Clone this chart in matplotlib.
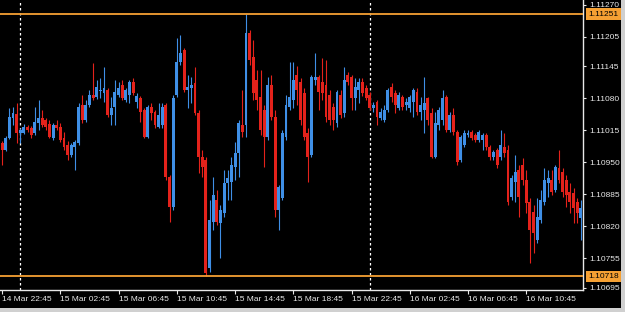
import matplotlib
matplotlib.use("Agg")
import matplotlib.pyplot as plt
from matplotlib.patches import Rectangle
import numpy as np
import pandas as pd

# EURUSD M15, 14 Mar 22:45 -> 16 Mar 11:30
times = pd.date_range("2016-03-14 22:45", periods=160, freq="15min")

opens = [
    1.10989, 1.10975, 1.10999, 1.11040, 1.11048, 1.11009, 1.11009, 1.11022, 1.11020, 1.11009,
    1.11030, 1.11040, 1.11036, 1.11028, 1.10999, 1.11026, 1.11022, 1.10999, 1.10985, 1.10965,
    1.10981, 1.10989, 1.11066, 1.11036, 1.11066, 1.11087, 1.11083, 1.11095, 1.11091, 1.11097,
    1.11046, 1.11062, 1.11087, 1.11107, 1.11076, 1.11087, 1.11113, 1.11072, 1.11081, 1.11056,
    1.11001, 1.11062, 1.11052, 1.11022, 1.11026, 1.11066, 1.10920, 1.10859, 1.11087, 1.11154,
    1.11178, 1.11097, 1.11101, 1.11111, 1.11050, 1.10961, 1.10954, 1.10735, 1.10828, 1.10873,
    1.10826, 1.10847, 1.10908, 1.10910, 1.10940, 1.10969, 1.11026, 1.11026, 1.11213, 1.11164,
    1.11117, 1.11083, 1.11056, 1.11001, 1.11107, 1.11042, 1.10853, 1.10877, 1.11001, 1.11062,
    1.11076, 1.11127, 1.11113, 1.11091, 1.11009, 1.10965, 1.11117, 1.11123, 1.11113, 1.11107,
    1.11087, 1.11062, 1.11030, 1.11087, 1.11050, 1.11127, 1.11123, 1.11081, 1.11097, 1.11113,
    1.11101, 1.11087, 1.11060, 1.11072, 1.11040, 1.11036, 1.11056, 1.11103, 1.11091, 1.11060,
    1.11083, 1.11066, 1.11060, 1.11072, 1.11093, 1.11052, 1.11056, 1.11081, 1.11050, 1.10961,
    1.11026, 1.11036, 1.11083, 1.11015, 1.11046, 1.11011, 1.10954, 1.10985, 1.11005, 1.11011,
    1.11005, 1.10995, 1.10995, 1.11005, 1.10981, 1.10961, 1.10975, 1.10961, 1.10981, 1.10975,
    1.10879, 1.10910, 1.10934, 1.10944, 1.10914, 1.10869, 1.10849, 1.10792, 1.10832, 1.10869,
    1.10908, 1.10914, 1.10893, 1.10938, 1.10930, 1.10914, 1.10889, 1.10887, 1.10869, 1.10836,
]
highs = [
    1.10993, 1.11003, 1.11060, 1.11062, 1.11070, 1.11020, 1.11028, 1.11026, 1.11024, 1.11062,
    1.11076, 1.11056, 1.11040, 1.11036, 1.11030, 1.11036, 1.11030, 1.11011, 1.10993, 1.10989,
    1.10995, 1.11070, 1.11087, 1.11076, 1.11097, 1.11152, 1.11117, 1.11121, 1.11144, 1.11101,
    1.11083, 1.11117, 1.11113, 1.11117, 1.11101, 1.11117, 1.11121, 1.11091, 1.11085, 1.11060,
    1.11066, 1.11070, 1.11056, 1.11070, 1.11070, 1.11070, 1.10924, 1.11087, 1.11203, 1.11209,
    1.11182, 1.11127, 1.11123, 1.11144, 1.11056, 1.10975, 1.10961, 1.10873, 1.10920, 1.10893,
    1.10863, 1.10934, 1.10934, 1.10961, 1.10991, 1.11036, 1.11097, 1.11251, 1.11219, 1.11199,
    1.11138, 1.11138, 1.11066, 1.11123, 1.11127, 1.11056, 1.10904, 1.11015, 1.11087, 1.11154,
    1.11154, 1.11146, 1.11121, 1.11101, 1.11020, 1.11127, 1.11172, 1.11127, 1.11162, 1.11158,
    1.11097, 1.11070, 1.11097, 1.11097, 1.11144, 1.11133, 1.11127, 1.11121, 1.11121, 1.11121,
    1.11107, 1.11093, 1.11072, 1.11076, 1.11060, 1.11066, 1.11101, 1.11111, 1.11097, 1.11093,
    1.11087, 1.11081, 1.11087, 1.11101, 1.11101, 1.11083, 1.11123, 1.11083, 1.11060, 1.11052,
    1.11062, 1.11097, 1.11087, 1.11052, 1.11060, 1.11015, 1.11005, 1.11015, 1.11015, 1.11015,
    1.11009, 1.11015, 1.11009, 1.11009, 1.10985, 1.10975, 1.10979, 1.11015, 1.11009, 1.10985,
    1.10924, 1.10965, 1.10944, 1.10958, 1.10934, 1.10877, 1.10863, 1.10877, 1.10893, 1.10938,
    1.10934, 1.10934, 1.10944, 1.10975, 1.10938, 1.10924, 1.10908, 1.10897, 1.10877, 1.10873,
]
lows = [
    1.10944, 1.10973, 1.10997, 1.11026, 1.10989, 1.10989, 1.11007, 1.11011, 1.10999, 1.11005,
    1.11015, 1.11022, 1.11015, 1.10999, 1.10995, 1.11015, 1.10991, 1.10975, 1.10954, 1.10961,
    1.10934, 1.10985, 1.11030, 1.11032, 1.11062, 1.11076, 1.11079, 1.11081, 1.11072, 1.11042,
    1.11026, 1.11026, 1.11083, 1.11076, 1.11072, 1.11070, 1.11087, 1.11060, 1.11032, 1.10999,
    1.10999, 1.11036, 1.11020, 1.11020, 1.11020, 1.10914, 1.10828, 1.10853, 1.11083, 1.11148,
    1.11093, 1.11060, 1.11070, 1.11046, 1.10928, 1.10920, 1.10718, 1.10726, 1.10812, 1.10822,
    1.10755, 1.10838, 1.10873, 1.10873, 1.10914, 1.10920, 1.11001, 1.11001, 1.11148, 1.11076,
    1.11056, 1.11005, 1.10940, 1.10995, 1.11036, 1.10838, 1.10812, 1.10873, 1.10995, 1.11056,
    1.11060, 1.11066, 1.11026, 1.10995, 1.10910, 1.10961, 1.11107, 1.11056, 1.11076, 1.11032,
    1.11026, 1.11015, 1.11022, 1.11040, 1.11042, 1.11107, 1.11056, 1.11056, 1.11070, 1.11085,
    1.11076, 1.11056, 1.11052, 1.11026, 1.11036, 1.11032, 1.11052, 1.11072, 1.11050, 1.11056,
    1.11056, 1.11056, 1.11052, 1.11042, 1.11046, 1.11036, 1.11009, 1.11026, 1.10958, 1.10958,
    1.11015, 1.11026, 1.11011, 1.11011, 1.11005, 1.10944, 1.10950, 1.10981, 1.11001, 1.10995,
    1.10991, 1.10991, 1.10975, 1.10975, 1.10954, 1.10954, 1.10938, 1.10954, 1.10961, 1.10863,
    1.10873, 1.10869, 1.10838, 1.10904, 1.10847, 1.10745, 1.10765, 1.10785, 1.10826, 1.10863,
    1.10879, 1.10883, 1.10889, 1.10908, 1.10879, 1.10859, 1.10847, 1.10826, 1.10826, 1.10792,
]
closes = [
    1.10975, 1.10999, 1.11042, 1.11050, 1.11009, 1.11015, 1.11022, 1.11015, 1.11005, 1.11032,
    1.11040, 1.11026, 1.11022, 1.11001, 1.11026, 1.11020, 1.10995, 1.10981, 1.10965, 1.10985,
    1.10991, 1.11062, 1.11036, 1.11066, 1.11087, 1.11081, 1.11103, 1.11097, 1.11101, 1.11046,
    1.11060, 1.11093, 1.11101, 1.11081, 1.11097, 1.11113, 1.11091, 1.11085, 1.11052, 1.11001,
    1.11062, 1.11050, 1.11026, 1.11046, 1.11062, 1.10920, 1.10859, 1.11081, 1.11154, 1.11172,
    1.11097, 1.11103, 1.11107, 1.11050, 1.10961, 1.10940, 1.10724, 1.10832, 1.10883, 1.10828,
    1.10853, 1.10908, 1.10918, 1.10944, 1.10969, 1.11030, 1.11011, 1.11213, 1.11158, 1.11091,
    1.11076, 1.11015, 1.11001, 1.11107, 1.11042, 1.10853, 1.10899, 1.11009, 1.11066, 1.11083,
    1.11117, 1.11097, 1.11036, 1.11001, 1.10961, 1.11123, 1.11123, 1.11093, 1.11091, 1.11042,
    1.11036, 1.11036, 1.11093, 1.11046, 1.11117, 1.11113, 1.11081, 1.11103, 1.11113, 1.11091,
    1.11081, 1.11060, 1.11066, 1.11042, 1.11052, 1.11056, 1.11097, 1.11083, 1.11066, 1.11087,
    1.11062, 1.11072, 1.11083, 1.11097, 1.11052, 1.11066, 1.11070, 1.11036, 1.10961, 1.11030,
    1.11056, 1.11081, 1.11015, 1.11046, 1.11011, 1.10950, 1.11001, 1.11009, 1.11009, 1.10999,
    1.10995, 1.11011, 1.11005, 1.10981, 1.10961, 1.10971, 1.10944, 1.10985, 1.10969, 1.10869,
    1.10918, 1.10930, 1.10879, 1.10914, 1.10867, 1.10812, 1.10806, 1.10838, 1.10873, 1.10914,
    1.10918, 1.10889, 1.10940, 1.10914, 1.10889, 1.10883, 1.10869, 1.10857, 1.10847, 1.10857,
]

price_ticks = [1.11270, 1.11205, 1.11145, 1.11080, 1.11015, 1.10950, 1.10885, 1.10820, 1.10755, 1.10695]

bull = "#3f8fe6"
bear = "#e4221b"
orange = "#f5a033"
fg = "#e8e8e8"

o = np.array(opens)
h = np.array(highs)
l = np.array(lows)
c = np.array(closes)
x = np.arange(len(o))
cols = [bull if cc >= oo else bear for oo, cc in zip(o, c)]

fig = plt.figure(figsize=(6.25, 3.12), dpi=100, facecolor="black")
ax = fig.add_axes([0, 22 / 312, 583 / 625, 290 / 312], facecolor="black")

# day separators
for i, t in enumerate(times):
    if t.hour == 0 and t.minute == 0:
        ax.axvline(i, color="white", lw=0.9, ls=(0, (2, 2)), zorder=1)

ax.vlines(x, l, h, colors=cols, lw=0.8, zorder=2)
body = np.maximum(np.abs(c - o), 0.000012)
ax.bar(x, body, bottom=np.minimum(o, c), width=0.8, color=cols, lw=0, zorder=3)

hi = h.max()
lo = l.min()
ax.axhline(hi, color=orange, lw=1.3, zorder=4)
ax.axhline(lo, color=orange, lw=1.3, zorder=4)

ax.set_xlim(-0.58, 159.6)
ax.set_ylim(1.10690, 1.112796)

for s in ["top", "left"]:
    ax.spines[s].set_visible(False)
for s in ["right", "bottom"]:
    ax.spines[s].set_color(fg)
    ax.spines[s].set_linewidth(1)

font = "Liberation Sans"
ax.yaxis.tick_right()
ax.set_yticks(price_ticks)
ax.set_yticklabels([f"{p:.5f}" for p in price_ticks], fontsize=6, color=fg, family=font)
ax.tick_params(axis="y", colors=fg, length=2.5, width=0.8, pad=2, labelcolor=fg)

tick_idx = list(range(0, len(times), 16))
ax.set_xticks(tick_idx)
ax.set_xticklabels([times[i].strftime("%d %b %H:%M") for i in tick_idx],
                   fontsize=6, color=fg, family=font, ha="left")
ax.tick_params(axis="x", colors=fg, length=3, width=0.8, pad=1.5, labelcolor=fg)

for p in [hi, lo]:
    ax.annotate(f"{p:.5f}", xy=(1.0, p), xycoords=("axes fraction", "data"),
                xytext=(4, 0), textcoords="offset points", va="center", ha="left",
                fontsize=6, color="black", family=font, zorder=5, annotation_clip=False,
                bbox=dict(boxstyle="square,pad=0.25", fc=orange, ec="none"))

# window frame at right and bottom
fig.patches.append(Rectangle((621 / 625, 0), 4 / 625, 1, transform=fig.transFigure,
                             fc="#d0d0d0", ec="none"))
fig.patches.append(Rectangle((0, 0), 1, 4 / 312, transform=fig.transFigure,
                             fc="#d0d0d0", ec="none"))

fig.savefig("out.png", dpi=100, facecolor="black")
